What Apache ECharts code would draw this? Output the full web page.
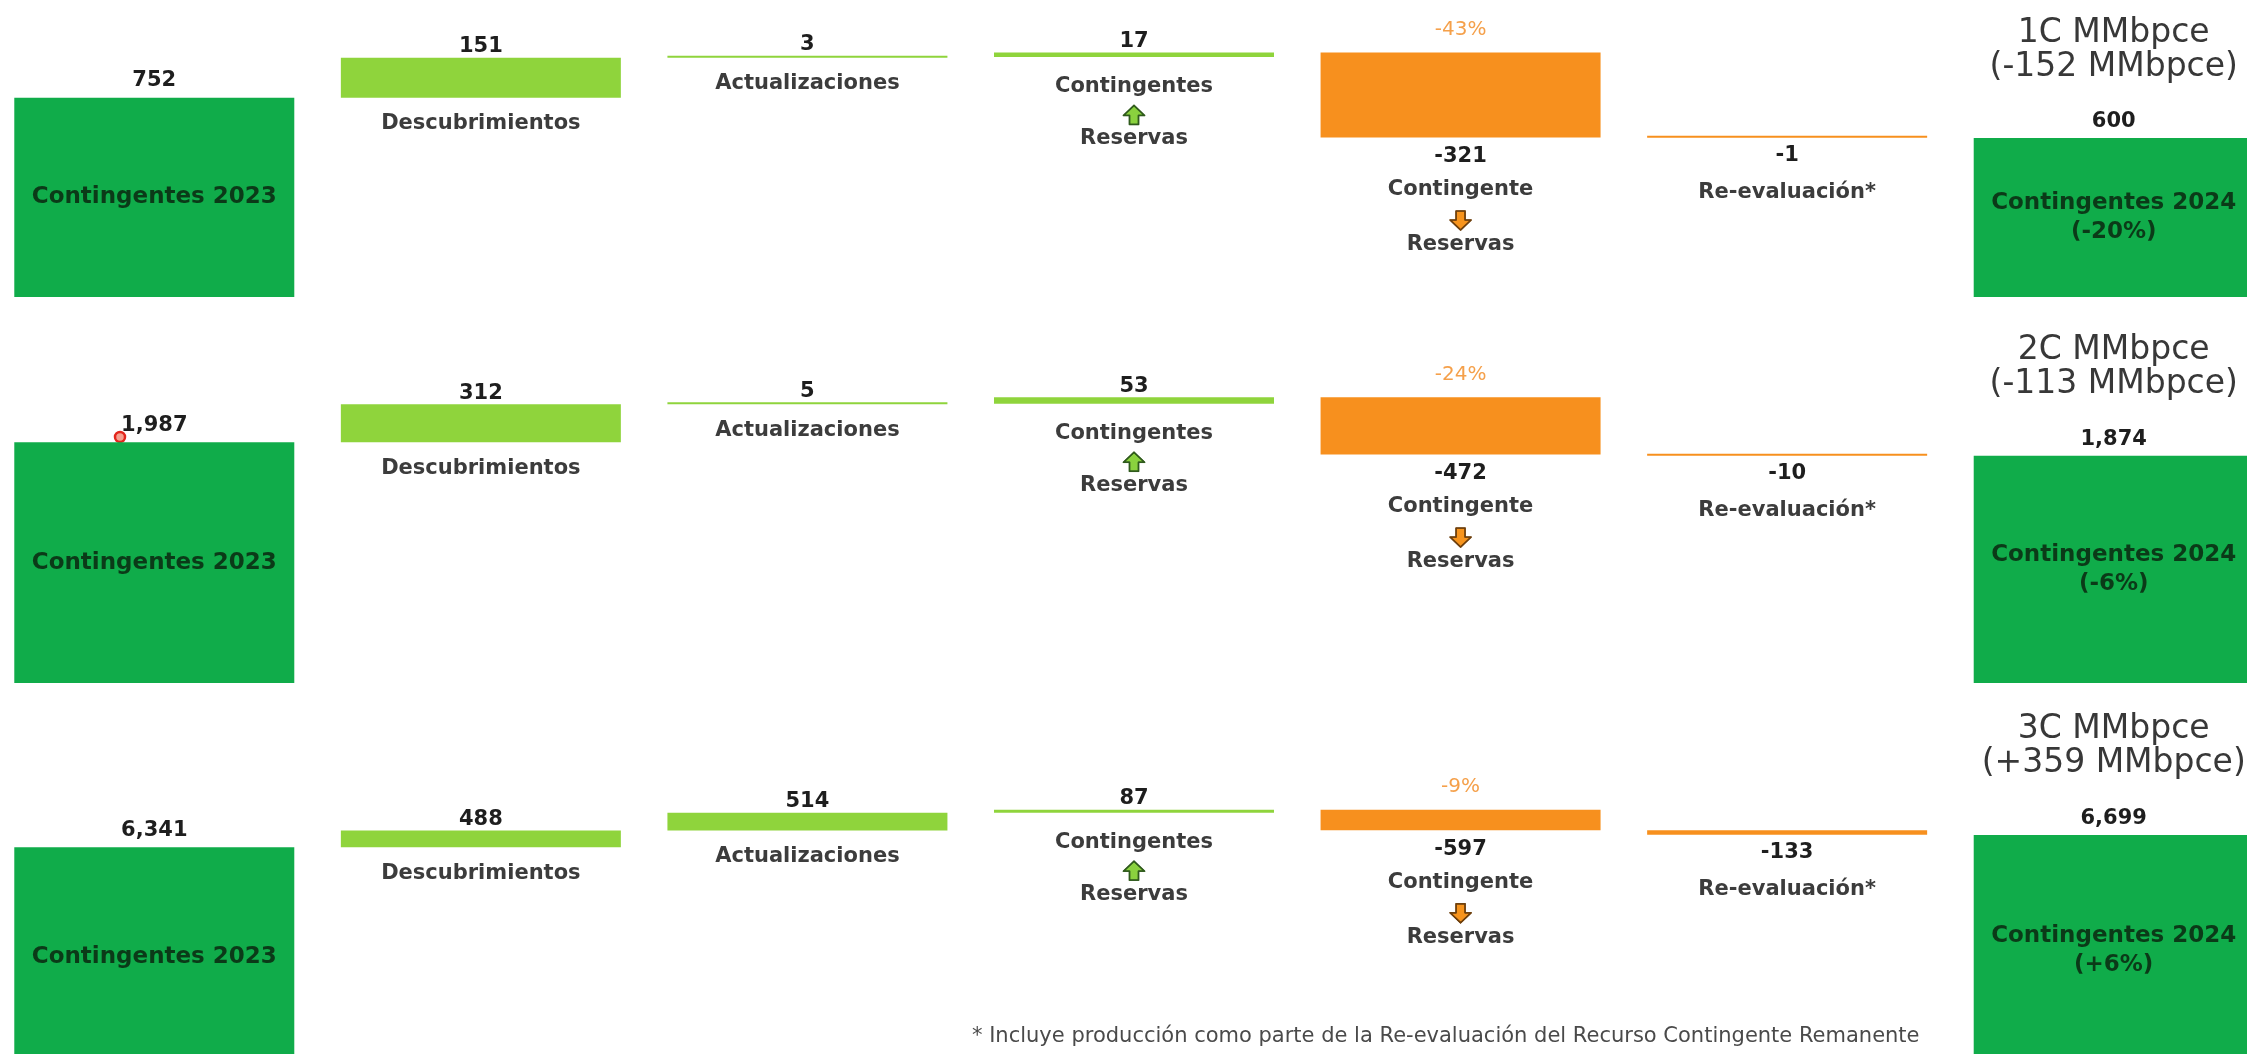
<!DOCTYPE html>
<html>
<head>
<meta charset="utf-8">
<script src="https://cdn.jsdelivr.net/npm/echarts@6/dist/echarts.min.js"></script>
<style>
html,body{margin:0;padding:0;background:#ffffff;}
#chart{width:2247px;height:1054px;}
</style>
</head>
<body>
<div id="chart"></div>
<script>
// ---------------- data ----------------
const CATEGORIES = ['Contingentes 2023', 'Descubrimientos', 'Actualizaciones', 'Contingentes ⬆ Reservas', 'Contingente ⬇ Reservas', 'Re-evaluación*', 'Contingentes 2024'];
const VALUES_1C = [752, 151, 3, 17, -321, -1, 600];
const VALUES_2C = [1987, 312, 5, 53, -472, -10, 1874];
const VALUES_3C = [6341, 488, 514, 87, -597, -133, 6699];
const ROW_TITLES = ['1C MMbpce', '2C MMbpce', '3C MMbpce'];
const ROW_CHANGES = ['(-152 MMbpce)', '(-113 MMbpce)', '(+359 MMbpce)'];
const TRANSFER_PCT = ['-43%', '-24%', '-9%'];
const TOTAL_PCT = ['(-20%)', '(-6%)', '(+6%)'];
const FOOTNOTE = '* Incluye producción como parte de la Re-evaluación del Recurso Contingente Remanente';

// ---------------- layout / style ----------------
const ROWS = [VALUES_1C, VALUES_2C, VALUES_3C];
const FONT = 'DejaVu Sans';
const GREEN = '#10ac4a', LIME = '#8fd43c', ORANGE = '#f7901e';
const BAR_W = 280;
const GRID_TOPS = [32, 380, 790];
const GRID_HEIGHTS = [265, 303, 276];
const Y_MAXES = [1000, 2500, 8000];

function makeArrow(up, fill, stroke) {
  const c = document.createElement('canvas');
  c.width = 48; c.height = 44;
  const g = c.getContext('2d');
  g.scale(2, 2);
  g.beginPath();
  const pts = [[12,1.5],[22.5,11.5],[16.5,11.5],[16.5,20.5],[7.5,20.5],[7.5,11.5],[1.5,11.5]];
  pts.forEach((p, k) => {
    const y = up ? p[1] : 22 - p[1];
    if (k === 0) g.moveTo(p[0], y); else g.lineTo(p[0], y);
  });
  g.closePath();
  g.fillStyle = fill; g.fill();
  g.lineWidth = 1.8; g.strokeStyle = stroke; g.lineJoin = 'round'; g.stroke();
  return c;
}
const UP_IMG = makeArrow(true, '#8ad23e', '#2f5a1c');
const DN_IMG = makeArrow(false, '#f7941d', '#6e3f0c');

const rich = {
  num:  {fontFamily: FONT, fontSize: 21, fontWeight: 'bold', color: '#1e1e1e', lineHeight: 30},
  cat:  {fontFamily: FONT, fontSize: 21, fontWeight: 'bold', color: '#3c3c3c', lineHeight: 30},
  catA: {fontFamily: FONT, fontSize: 21, fontWeight: 'bold', color: '#3c3c3c', lineHeight: 36},
  catB: {fontFamily: FONT, fontSize: 21, fontWeight: 'bold', color: '#3c3c3c', lineHeight: 22},
  catR: {fontFamily: FONT, fontSize: 21, fontWeight: 'bold', color: '#3c3c3c', lineHeight: 44},
  up:   {backgroundColor: {image: UP_IMG}, width: 24, height: 22, lineHeight: 26},
  dn:   {backgroundColor: {image: DN_IMG}, width: 24, height: 22, lineHeight: 26},
  inb:  {fontFamily: FONT, fontSize: 23, fontWeight: 'bold', color: '#0b3a18', lineHeight: 29},
  t:    {fontFamily: FONT, fontSize: 33, color: '#383838', lineHeight: 34},
  g:    {fontFamily: FONT, fontSize: 10, lineHeight: 27},
  v:    {fontFamily: FONT, fontSize: 21, fontWeight: 'bold', color: '#1e1e1e', lineHeight: 22},
  pct:  {fontFamily: FONT, fontSize: 20, color: '#f5a04a', lineHeight: 24}
};

const fmt = v => Math.abs(v).toLocaleString('en-US');
const sfmt = v => (v < 0 ? '-' : '') + fmt(v);

function bottomText(i, v) {
  if (i === 3) return {d: 15, f: '{cat|Contingentes}\n{up|}\n{catB|Reservas}'};
  if (i === 4) return {d: 4, f: '{num|' + sfmt(v) + '}\n{catA|Contingente}\n{dn|}\n{catB|Reservas}'};
  if (i === 5) return {d: 3, f: '{num|' + sfmt(v) + '}\n{catR|' + CATEGORIES[i] + '}'};
  return {d: 11, f: '{cat|' + CATEGORIES[i] + '}'};
}

const grids = [], xAxes = [], yAxes = [], series = [];
ROWS.forEach((vals, r) => {
  grids.push({left: -9, right: -30, top: GRID_TOPS[r], height: GRID_HEIGHTS[r],
              containLabel: false, outerBoundsMode: 'none'});
  xAxes.push({type: 'category', gridIndex: r, data: CATEGORIES, show: false});
  yAxes.push({type: 'value', gridIndex: r, min: 0, max: Y_MAXES[r], show: false});
  const base = [], total = [], delta = [];
  let running = 0;
  const last = vals.length - 1;
  vals.forEach((v, i) => {
    if (i === 0 || i === last) {
      base.push('-');
      const inner = i === 0 ? '{inb|' + CATEGORIES[i] + '}' : '{inb|' + CATEGORIES[i] + '}\n{inb|' + TOTAL_PCT[r] + '}';
      total.push({value: v, label: {show: true, position: 'inside', formatter: inner, rich: rich}});
      const topTxt = i === 0 ? '{v|' + fmt(v) + '}'
        : '{t|' + ROW_TITLES[r] + '}\n{t|' + ROW_CHANGES[r] + '}\n{g| }\n{v|' + fmt(v) + '}';
      delta.push({value: 0, itemStyle: {color: 'rgba(0,0,0,0)'},
        label: {show: true, position: 'top', distance: i === 0 ? 4 : 3, formatter: topTxt, rich: rich}});
      if (i === 0) running = v;
    } else {
      const lo = v >= 0 ? running : running + v;
      const bt = bottomText(i, v);
      base.push({value: lo, label: {show: true, position: 'insideTop', distance: bt.d, formatter: bt.f, rich: rich}});
      total.push('-');
      let topLbl;
      if (v >= 0) topLbl = {show: true, position: 'top', distance: 0, formatter: '{v|' + fmt(v) + '}', rich: rich};
      else if (i === 4) topLbl = {show: true, position: 'top', distance: 11, formatter: '{pct|' + TRANSFER_PCT[r] + '}', rich: rich};
      else topLbl = {show: false};
      delta.push({value: Math.abs(v), itemStyle: {color: v >= 0 ? LIME : ORANGE}, label: topLbl});
      running += v;
    }
  });
  const common = {type: 'bar', stack: 'w' + r, xAxisIndex: r, yAxisIndex: r, barWidth: BAR_W, silent: true, animation: false};
  series.push(Object.assign({}, common, {name: 'base' + r, data: base, itemStyle: {color: 'rgba(0,0,0,0)'}}));
  series.push(Object.assign({}, common, {name: 'total' + r, data: total, itemStyle: {color: GREEN}}));
  series.push(Object.assign({}, common, {name: 'delta' + r, data: delta, barMinHeight: 2}));
});

const chart = echarts.init(document.getElementById('chart'), null, {renderer: 'canvas'});
chart.setOption({
  backgroundColor: '#ffffff',
  animation: false,
  grid: grids,
  xAxis: xAxes,
  yAxis: yAxes,
  series: series,
  graphic: [
    {type: 'text', left: 972, top: 1026, silent: true,
     style: {text: FOOTNOTE, fontFamily: FONT, fontSize: 21, fill: '#4a4a4a'}},
    {type: 'circle', silent: true, shape: {cx: 120, cy: 437, r: 5},
     style: {fill: '#f4a090', stroke: '#e3261c', lineWidth: 2.5}}
  ]
});
</script>
</body>
</html>
